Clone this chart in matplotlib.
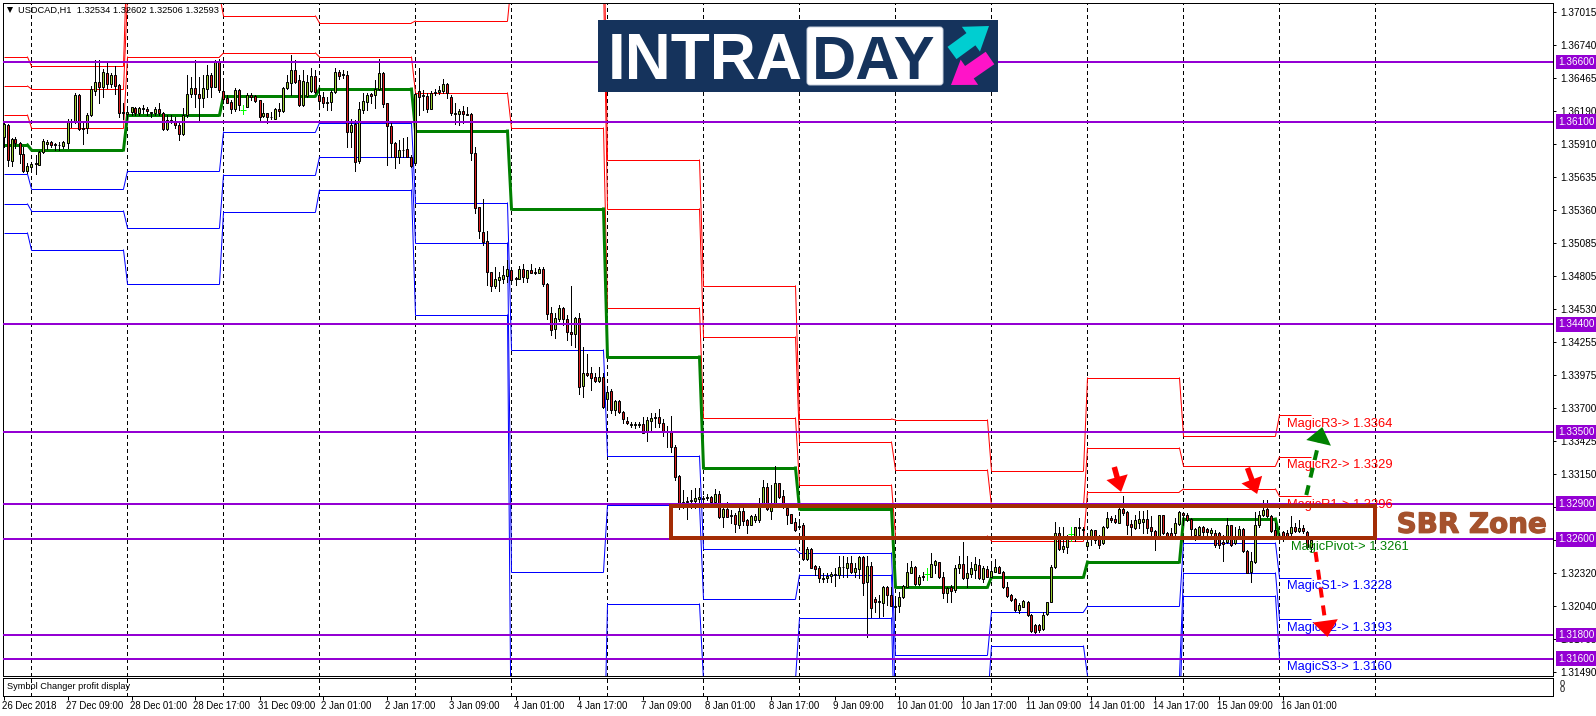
import matplotlib
matplotlib.use('Agg')
import matplotlib.pyplot as plt
import matplotlib.patheffects as pe
from matplotlib.patches import Rectangle, FancyBboxPatch, FancyArrowPatch
from matplotlib.transforms import ScaledTranslation
import numpy as np

# USDCAD H1 quotes, in points (1 point = 0.00001)
POINT = 0.00001

opens = [
    135974, 136072, 135773, 135952, 135918, 135826, 135687, 135723, 135745, 135737, 135849, 135913,
    135930, 135913, 135902, 135896, 135918, 136097, 136100, 136323, 136044, 136044, 136153, 136360,
    136432, 136388, 136505, 136416, 136491, 136404, 136170, 136164, 136184, 136217, 136175, 136206,
    136206, 136178, 136170, 136206, 136170, 136039, 136114, 136100, 136072, 135997, 136156, 136332,
    136379, 136329, 136301, 136371, 136488, 136393, 136611, 136357, 136301, 136265, 136209, 136365,
    136200, 136226, 136326, 136315, 136279, 136150, 136170, 136136, 136125, 136206, 136192, 136379,
    136427, 136533, 136446, 136240, 136315, 136360, 136483, 136323, 136307, 136259, 136265, 136351,
    136516, 136488, 136488, 136016, 136080, 135773, 136198, 136268, 136329, 136323, 136371, 136505,
    136254, 136064, 135918, 135807, 135860, 135868, 135807, 135751, 136360, 136312, 136318, 136209,
    136337, 136346, 136360, 136416, 136309, 136164, 136167, 136187, 136156, 136161, 135835, 135382,
    135176, 135097, 134838, 134726, 134773, 134782, 134810, 134854, 134787, 134784, 134863, 134793,
    134854, 134835, 134835, 134863, 134740, 134494, 134360, 134447, 134536, 134444, 134338, 134318,
    134452, 133888, 133991, 133991, 133958, 133927, 133958, 133774, 133846, 133684, 133762, 133665,
    133595, 133561, 133561, 133561, 133567, 133497, 133595, 133623, 133623, 133578, 133506, 133500,
    133377, 133131, 132902, 132910, 132921, 132924, 132941, 132944, 132944, 132952, 132916, 132977,
    132790, 132854, 132804, 132804, 132723, 132841, 132762, 132723, 132762, 132762, 132888, 133039,
    132841, 132888, 133070, 132963, 132866, 132810, 132748, 132701, 132721, 132433, 132516, 132377,
    132357, 132271, 132274, 132293, 132302, 132302, 132366, 132363, 132399, 132327, 132355, 132455,
    132246, 132377, 132098, 132075, 132070, 132198, 132131, 132034, 132045, 132114, 132204, 132321,
    132369, 132226, 132288, 132310, 132288, 132388, 132408, 132288, 132154, 132204, 132173, 132363,
    132391, 132274, 132313, 132344, 132385, 132271, 132349, 132288, 132330, 132371, 132324, 132204,
    132134, 132098, 132008, 132036, 132075, 131966, 131880, 131883, 131846, 131975, 132078, 132366,
    132651, 132517, 132539, 132645, 132631, 132693, 132679, 132547, 132601, 132676, 132601, 132567,
    132701, 132779, 132768, 132740, 132857, 132829, 132726, 132695, 132740, 132743, 132771, 132701,
    132673, 132631, 132801, 132656, 132656, 132651, 132729, 132824, 132804, 132768, 132637, 132637,
    132704, 132684, 132651, 132656, 132651, 132581, 132575, 132718, 132567, 132629, 132684, 132503,
    132327, 132411, 132718, 132801, 132852, 132799, 132676, 132601, 132662, 132656, 132651, 132701,
    132673, 132693, 132662, 132534,
]
highs = [
    136100, 136080, 135960, 135974, 135932, 135891, 135751, 135756, 135821, 135857, 135952, 135946,
    135941, 135918, 135932, 135938, 136120, 136120, 136337, 136332, 136086, 136170, 136399, 136617,
    136617, 136538, 136589, 136505, 136566, 136416, 136254, 136198, 136226, 136226, 136226, 136240,
    136226, 136184, 136220, 136254, 136184, 136156, 136156, 136142, 136092, 136212, 136491, 136477,
    136617, 136477, 136491, 136575, 136511, 136617, 136622, 136449, 136323, 136282, 136379, 136376,
    136240, 136337, 136337, 136323, 136282, 136259, 136170, 136178, 136212, 136254, 136388, 136491,
    136659, 136617, 136491, 136533, 136491, 136547, 136533, 136379, 136351, 136309, 136365, 136547,
    136533, 136533, 136527, 136120, 136114, 136268, 136337, 136337, 136343, 136449, 136622, 136516,
    136259, 136086, 135932, 135946, 135960, 135974, 135821, 136337, 136547, 136365, 136337, 136360,
    136371, 136399, 136455, 136421, 136321, 136254, 136203, 136231, 136226, 136170, 135891, 135388,
    135449, 135184, 134843, 134885, 134843, 134891, 134941, 134871, 134801, 134891, 134908, 134857,
    134908, 134871, 134880, 134885, 134745, 134544, 134494, 134564, 134544, 134480, 134723, 134460,
    134494, 134215, 134153, 134042, 133997, 134047, 133991, 133880, 133857, 133768, 133768, 133673,
    133628, 133584, 133584, 133584, 133628, 133623, 133656, 133656, 133690, 133606, 133550, 133634,
    133391, 133137, 133014, 132958, 133014, 133028, 133028, 132963, 132980, 132963, 133019, 133008,
    132888, 132916, 132846, 132818, 132860, 132902, 132768, 132804, 132813, 132944, 133098, 133075,
    133056, 133215, 133075, 133014, 132888, 132813, 132776, 132768, 132734, 132539, 132525, 132385,
    132377, 132316, 132316, 132330, 132357, 132458, 132464, 132455, 132464, 132399, 132464, 132464,
    132464, 132413, 132120, 132134, 132209, 132209, 132204, 132120, 132162, 132218, 132405, 132422,
    132377, 132302, 132330, 132357, 132483, 132427, 132413, 132330, 132204, 132218, 132385, 132458,
    132578, 132458, 132413, 132455, 132433, 132377, 132377, 132394, 132433, 132377, 132338, 132246,
    132142, 132106, 132064, 132092, 132084, 131972, 131888, 131891, 131994, 132078, 132382, 132749,
    132701, 132707, 132637, 132707, 132707, 132776, 132707, 132609, 132684, 132679, 132637, 132712,
    132832, 132796, 132804, 132908, 132963, 132841, 132762, 132804, 132841, 132841, 132846, 132796,
    132679, 132804, 132804, 132665, 132693, 132776, 132835, 132832, 132818, 132776, 132693, 132712,
    132712, 132693, 132693, 132679, 132665, 132637, 132782, 132721, 132707, 132712, 132693, 132511,
    132497, 132832, 132841, 132930, 132930, 132804, 132734, 132651, 132670, 132679, 132796, 132734,
    132762, 132721, 132670, 132602,
]
lows = [
    135891, 135729, 135729, 135877, 135751, 135681, 135667, 135681, 135661, 135737, 135840, 135871,
    135891, 135863, 135863, 135877, 135882, 136058, 136086, 136030, 135910, 136008, 136147, 136323,
    136254, 136309, 136379, 136393, 136332, 136142, 136120, 136120, 136156, 136156, 136156, 136170,
    136156, 136136, 136156, 136156, 136030, 136030, 136086, 136044, 135946, 135988, 136142, 136309,
    136226, 136114, 136226, 136309, 136309, 136388, 136351, 136254, 136254, 136175, 136192, 136198,
    136164, 136220, 136282, 136268, 136108, 136136, 136092, 136120, 136120, 136147, 136184, 136371,
    136323, 136421, 136231, 136231, 136309, 136351, 136337, 136231, 136226, 136198, 136198, 136337,
    136460, 136463, 135891, 135885, 135689, 135751, 136170, 136198, 136254, 136212, 136365, 136226,
    135737, 135807, 135715, 135751, 135807, 135807, 135723, 135737, 136156, 136198, 136184, 136203,
    136323, 136332, 136337, 136295, 136156, 136080, 136072, 136086, 136156, 135779, 135338, 135128,
    135067, 134731, 134684, 134706, 134684, 134745, 134759, 134773, 134731, 134779, 134759, 134759,
    134835, 134824, 134835, 134723, 134444, 134313, 134290, 134433, 134396, 134271, 134229, 134215,
    133818, 133796, 133969, 133852, 133922, 133919, 133698, 133698, 133662, 133642, 133656, 133572,
    133564, 133544, 133533, 133539, 133489, 133427, 133516, 133539, 133539, 133466, 133377, 133335,
    133098, 132852, 132860, 132768, 132860, 132860, 132902, 132902, 132930, 132907, 132902, 132776,
    132707, 132785, 132734, 132665, 132693, 132721, 132656, 132718, 132748, 132748, 132882, 132846,
    132768, 132882, 132944, 132860, 132729, 132734, 132673, 132698, 132427, 132427, 132357, 132301,
    132246, 132246, 132246, 132246, 132210, 132274, 132288, 132288, 132316, 132288, 132274, 132134,
    131785, 131953, 131991, 131953, 131958, 132050, 132042, 131939, 131991, 132106, 132198, 132316,
    132218, 132218, 132260, 132260, 132282, 132316, 132274, 132106, 132078, 132078, 132162, 132316,
    132265, 132198, 132288, 132274, 132265, 132246, 132282, 132282, 132324, 132316, 132190, 132120,
    132087, 132003, 131986, 132030, 131958, 131827, 131807, 131827, 131841, 131966, 132072, 132360,
    132511, 132497, 132489, 132582, 132582, 132629, 132609, 132533, 132553, 132567, 132531, 132561,
    132693, 132748, 132734, 132734, 132804, 132642, 132631, 132690, 132693, 132651, 132651, 132634,
    132511, 132623, 132645, 132623, 132623, 132637, 132721, 132721, 132757, 132637, 132595, 132609,
    132637, 132637, 132609, 132539, 132525, 132422, 132567, 132545, 132561, 132623, 132492, 132316,
    132246, 132405, 132707, 132796, 132790, 132665, 132623, 132582, 132584, 132609, 132637, 132662,
    132665, 132651, 132525, 132506,
]
closes = [
    136080, 135779, 135952, 135918, 135826, 135687, 135729, 135745, 135751, 135849, 135935, 135930,
    135904, 135902, 135907, 135927, 136100, 136108, 136323, 136036, 136036, 136153, 136371, 136430,
    136393, 136516, 136416, 136488, 136399, 136175, 136178, 136184, 136220, 136170, 136215, 136212,
    136192, 136170, 136203, 136170, 136039, 136111, 136094, 136069, 135997, 136156, 136329, 136379,
    136329, 136301, 136379, 136488, 136388, 136603, 136365, 136290, 136254, 136206, 136365, 136237,
    136200, 136326, 136309, 136276, 136142, 136170, 136142, 136142, 136206, 136192, 136379, 136430,
    136533, 136432, 136240, 136441, 136435, 136483, 136351, 136276, 136259, 136268, 136351, 136516,
    136483, 136499, 136016, 136072, 135765, 136203, 136273, 136323, 136318, 136371, 136505, 136248,
    136064, 135918, 135807, 135863, 135866, 135807, 135731, 136329, 136309, 136321, 136206, 136337,
    136346, 136365, 136416, 136337, 136175, 136175, 136187, 136161, 136161, 135835, 135374, 135187,
    135089, 134838, 134726, 134779, 134796, 134815, 134863, 134773, 134779, 134863, 134796, 134854,
    134835, 134840, 134863, 134737, 134486, 134352, 134452, 134536, 134444, 134335, 134318, 134452,
    133880, 133991, 133977, 133955, 133927, 133958, 133706, 133838, 133684, 133762, 133667, 133606,
    133572, 133570, 133570, 133570, 133494, 133600, 133614, 133614, 133578, 133503, 133497, 133377,
    133126, 132907, 132913, 132919, 132930, 132944, 132952, 132935, 132958, 132913, 132977, 132785,
    132854, 132790, 132796, 132726, 132841, 132757, 132723, 132796, 132796, 132888, 133039, 132852,
    132902, 133070, 132958, 132888, 132804, 132740, 132679, 132709, 132433, 132516, 132363, 132355,
    132274, 132277, 132296, 132310, 132307, 132366, 132371, 132399, 132330, 132357, 132455, 132238,
    132377, 132022, 132078, 132081, 132198, 132131, 132045, 132042, 132120, 132209, 132324, 132369,
    132226, 132285, 132293, 132310, 132394, 132416, 132282, 132154, 132193, 132170, 132357, 132391,
    132274, 132316, 132357, 132391, 132274, 132357, 132288, 132335, 132371, 132321, 132201, 132128,
    132092, 132008, 132050, 132084, 131964, 131835, 131827, 131841, 131966, 132072, 132371, 132651,
    132517, 132545, 132601, 132645, 132701, 132701, 132684, 132575, 132676, 132595, 132556, 132704,
    132779, 132762, 132748, 132857, 132824, 132721, 132701, 132762, 132768, 132768, 132695, 132673,
    132631, 132801, 132651, 132631, 132631, 132734, 132827, 132804, 132762, 132690, 132684, 132704,
    132665, 132662, 132679, 132553, 132553, 132561, 132718, 132553, 132623, 132684, 132500, 132321,
    132416, 132718, 132804, 132846, 132799, 132670, 132629, 132609, 132629, 132631, 132701, 132673,
    132693, 132670, 132534, 132593,
]
# bars that came through as a bare light green tick
tick_bars = [60, 231, 267]

# daily levels of the pivot indicator, each day starts at the bar in day_starts
day_starts = [0, 7, 31, 55, 79, 103, 127, 151, 175, 199, 223, 247, 271, 295, 319]
last_bar = 327
r3 = [136641, 136566, 137622, 137287, 137203, 137370, 137957, 135778, 134723, 133608, 133600, 133173, 133952, 133466, 133640]
r2 = [136398, 136373, 137161, 136985, 136926, 136943, 137287, 135368, 134295, 133415, 133181, 132879, 133365, 133214, 133290]
r1 = [136155, 136046, 136641, 136675, 136641, 136340, 136046, 134538, 133617, 133055, 132628, 132586, 132997, 133022, 132960]
pivot = [135904, 135862, 136155, 136315, 136373, 136021, 135368, 134128, 133198, 132854, 132200, 132284, 132410, 132770, 132610]
s1 = [135661, 135535, 135686, 136013, 136088, 135418, 134186, 133298, 132519, 132485, 131631, 131991, 132041, 132569, 132280]
s2 = [135410, 135351, 135209, 135653, 135803, 135083, 132326, 132888, 132100, 132301, 131212, 131706, 131455, 132318, 131930]
s3 = [135167, 135024, 134739, 135343, 135527, 134480, 130500, 132058, 131421, 131941, 130667, 131413, 131086, 132125, 131600]

# horizontal support / resistance lines
sr_levels = [1.366, 1.361, 1.344, 1.335, 1.329, 1.326, 1.318, 1.316]

price_ticks = [1.37015, 1.36740, 1.36465, 1.36190, 1.35910, 1.35635, 1.35360, 1.35085, 1.34805, 1.34530, 1.34255,
               1.33975, 1.33700, 1.33425, 1.33150, 1.32870, 1.32595, 1.32320, 1.32040, 1.31765, 1.31490]
time_labels = ['26 Dec 2018', '27 Dec 09:00', '28 Dec 01:00', '28 Dec 17:00', '31 Dec 09:00', '2 Jan 01:00',
               '2 Jan 17:00', '3 Jan 09:00', '4 Jan 01:00', '4 Jan 17:00', '7 Jan 09:00', '8 Jan 01:00',
               '8 Jan 17:00', '9 Jan 09:00', '10 Jan 01:00', '10 Jan 17:00', '11 Jan 09:00', '14 Jan 01:00',
               '14 Jan 17:00', '15 Jan 09:00', '16 Jan 01:00']

W, H = 1596, 716
PX = 0.72  # one pixel in points at dpi 100
BROWN = '#A32C05'
VIOLET = '#9400D3'
FONT = 'Liberation Sans'

plt.rcParams['font.family'] = [FONT, 'DejaVu Sans']

fig = plt.figure(figsize=(W / 100, H / 100), dpi=100, facecolor='white')

def box(left, top, right, bottom):
    return [left / W, 1 - bottom / H, (right - left) / W, (bottom - top) / H]

ax = fig.add_axes(box(2.5, 2.5, 1553.5, 675.5))
sub = fig.add_axes(box(2.5, 677.5, 1553.5, 695.5))

bars = np.arange(len(opens))
o = np.array(opens) * POINT
h = np.array(highs) * POINT
l = np.array(lows) * POINT
c = np.array(closes) * POINT

xlim = (-0.25, 387.5)
ax.set_xlim(xlim)
ax.set_ylim(1.31459, 1.37098)
sub.set_xlim(xlim)
sub.set_ylim(0, 1)

# grid every 24 bars
grid_bars = np.arange(7, 344, 24)
for a in (ax, sub):
    for g in grid_bars:
        a.axvline(g, color='black', lw=PX, dashes=(3, 3), zorder=1, antialiased=False)

# pivot lines: flat for the day, one bar to step to the next day
ends = day_starts[1:] + [last_bar + 1]
for levels, color, width, z in [(r3, 'red', PX, 2), (r2, 'red', PX, 2), (r1, 'red', PX, 2),
                                (s1, 'blue', PX, 2), (s2, 'blue', PX, 2), (s3, 'blue', PX, 2),
                                (pivot, '#008000', 3 * PX, 2.5)]:
    for d in range(len(day_starts)):
        v = levels[d] * POINT
        ax.plot([day_starts[d], ends[d] - 1], [v, v], color=color, lw=width, zorder=z, solid_capstyle='butt')
        if d + 1 < len(day_starts):
            ax.plot([ends[d] - 1, ends[d]], [v, levels[d + 1] * POINT], color=color, lw=width, zorder=z,
                    solid_capstyle='projecting')

# candles
normal = np.array([b not in tick_bars for b in bars])
up = (c >= o) & normal
down = (c < o) & normal
ax.vlines(bars[normal], l[normal], h[normal], color='black', lw=PX, zorder=3, antialiased=False)
ax.bar(bars[up], (c - o)[up], bottom=o[up], width=0.5, color='#9ACD32', edgecolor='black', linewidth=PX, zorder=3.1)
ax.bar(bars[down], (o - c)[down], bottom=c[down], width=0.5, color='#D81E1E', edgecolor='black', linewidth=PX, zorder=3.1)
ax.vlines(bars[~normal], l[~normal], h[~normal], color='#00FF00', lw=PX, zorder=3, antialiased=False)
ax.plot(bars[~normal], o[~normal], ls='none', marker='_', ms=4, mew=PX, color='#00FF00', zorder=3)

# horizontal levels and their price tags
for lvl in sr_levels:
    ax.axhline(lvl, color=VIOLET, lw=2 * PX, zorder=4)
    ax.annotate(f'{lvl:.5f}', xy=(1, lvl), xycoords=ax.get_yaxis_transform(), xytext=(5 * PX, 0),
                textcoords='offset points', va='center', ha='left', color='white', fontsize=7.2,
                annotation_clip=False, zorder=6,
                bbox=dict(boxstyle='square,pad=0.22', fc=VIOLET, ec=VIOLET, lw=0))

# SBR zone
ax.add_patch(Rectangle((167, 1.32615), 176, 0.00264, fill=False, ec=BROWN, lw=4 * PX, zorder=5, joinstyle='miter'))
ax.text(348.3, 1.32722, 'SBR Zone', family='DejaVu Sans', weight='bold', fontsize=20, color='#A5522D',
        ha='left', va='center', zorder=6,
        path_effects=[pe.withStroke(linewidth=0.9, foreground='#A5522D')])

# level labels at the right end of the lines
for name, levels, color, bar in [('MagicR3', r3, 'red', 321), ('MagicR2', r2, 'red', 321), ('MagicR1', r1, 'red', 321),
                                 ('MagicPivot', pivot, '#008000', 322), ('MagicS1', s1, 'blue', 321),
                                 ('MagicS2', s2, 'blue', 321), ('MagicS3', s3, 'blue', 321)]:
    v = levels[-1] * POINT
    ax.annotate(f'{name}-> {v:.4f}', xy=(bar, v), xytext=(0, -8.5 * PX), textcoords='offset points',
                color=color, fontsize=9.3, va='center', ha='left', zorder=4.5)

# hand drawn arrows
ax.plot([325.7, 329.1], [1.32971, 1.33450], color='#008000', lw=4 * PX, dashes=(2.5, 2), zorder=6)
ax.add_patch(FancyArrowPatch((329.0, 1.33440), (329.7, 1.33541), arrowstyle='-|>,head_length=0.45,head_width=0.35',
                             mutation_scale=26, color='#008000', lw=0, shrinkA=0, shrinkB=0, zorder=6))
ax.plot([328, 330.6], [1.32494, 1.31870], color='red', lw=4 * PX, dashes=(2.5, 2), zorder=6)
ax.add_patch(FancyArrowPatch((330.6, 1.31880), (331, 1.31782), arrowstyle='-|>,head_length=0.45,head_width=0.35',
                             mutation_scale=26, color='red', lw=0, shrinkA=0, shrinkB=0, zorder=6))
for start, tip in [((277.7, 1.33206), (279.4, 1.32997)), ((311, 1.33198), (313.4, 1.32980))]:
    ax.add_patch(FancyArrowPatch(start, tip, arrowstyle='simple,head_length=0.5,head_width=0.72,tail_width=0.18',
                                 mutation_scale=22, color='red', lw=0, shrinkA=0, shrinkB=0, zorder=6))

# header
ax.text(15.5 / 1551, 0.9885, 'USDCAD,H1  1.32534 1.32602 1.32506 1.32593', transform=ax.transAxes,
        fontsize=6.7, va='center', ha='left', zorder=7)
ax.plot([7.5 / 1551], [0.9885], transform=ax.transAxes, marker='v', ms=4.5, color='black', mew=0, zorder=7)

# axes
ax.yaxis.tick_right()
ax.set_yticks(price_ticks)
ax.set_yticklabels([f'{p:.5f}' for p in price_ticks], fontsize=7.2)
ax.tick_params(axis='y', length=2.2, width=PX, pad=2.5)
ax.set_xticks([])
for a in (ax, sub):
    for s in a.spines.values():
        s.set_linewidth(PX)

sub.set_yticks([])
sub.set_xticks(np.arange(len(time_labels)) * 16)
sub.set_xticklabels(time_labels, fontsize=6.9, ha='left')
sub.tick_params(axis='x', length=3, width=PX, pad=1)
shift = ScaledTranslation(-2 / 100, 0, fig.dpi_scale_trans)
for lab in sub.get_xticklabels():
    lab.set_transform(lab.get_transform() + shift)
sub.text(4.5 / 1551, 0.48, 'Symbol Changer profit display', transform=sub.transAxes, fontsize=6.6, va='center', ha='left')
sub.text(1.0042, 0.68, '0', transform=sub.transAxes, fontsize=6.5, va='center', ha='left')
sub.text(1.0042, 0.36, '0', transform=sub.transAxes, fontsize=6.5, va='center', ha='left')

# logo, drawn in picture pixels on top of everything
top = fig.add_axes([0, 0, 1, 1], zorder=10)
top.set_xlim(0, W)
top.set_ylim(H, 0)
top.axis('off')
top.patch.set_alpha(0)
NAVY = '#15335C'
top.add_patch(Rectangle((598, 20), 400, 72, fc=NAVY, ec='none'))
top.add_patch(FancyBboxPatch((810, 30), 130, 52, boxstyle='round,pad=3,rounding_size=3', fc='white', ec='#C8D0DC', lw=0.7))
top.text(608, 79, 'INTRA', color='white', weight='bold', fontsize=46, family=FONT, ha='left', va='baseline')
top.text(812, 79, 'DAY', color=NAVY, weight='bold', fontsize=44, family=FONT, ha='left', va='baseline')
top.add_patch(FancyArrowPatch((952, 53), (989, 26), arrowstyle='simple,head_length=0.62,head_width=0.85,tail_width=0.42',
                              mutation_scale=26, color='#00CED1', lw=0, shrinkA=0, shrinkB=0))
top.add_patch(FancyArrowPatch((990, 58), (951, 85), arrowstyle='simple,head_length=0.62,head_width=0.85,tail_width=0.42',
                              mutation_scale=26, color='#FF14C8', lw=0, shrinkA=0, shrinkB=0))

fig.savefig('out.png', dpi=100)
